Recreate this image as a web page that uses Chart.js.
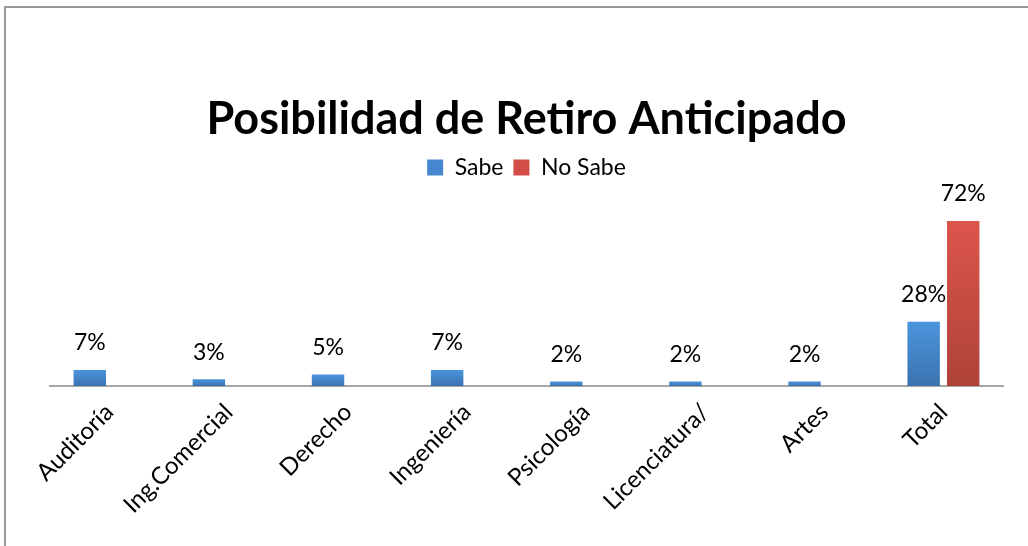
<!DOCTYPE html>
<html>
<head>
<meta charset="utf-8">
<script src="https://cdn.jsdelivr.net/npm/chart.js@4/dist/chart.umd.min.js"></script>
<style>
  html, body { margin: 0; padding: 0; background: #fff; }
  #wrap { width: 1028px; height: 546px; position: relative; }
</style>
</head>
<body>
<div id="wrap"><canvas id="chart" width="1028" height="546"></canvas></div>
<script>
(function () {
    "use strict";

    // ======================================================================
    // Data
    //
    const categories = ['Auditoría', 'Ing.Comercial', 'Derecho', 'Ingeniería', 'Psicología', 'Licenciatura/', 'Artes', 'Total'];
    const sabe = [7, 3, 5, 7, 2, 2, 2, 28];
    const noSabe = [null, null, null, null, null, null, null, 72];
    const seriesNames = ['Sabe', 'No Sabe'];

    const FONT = "Lato, 'Open Sans', sans-serif";

    // ======================================================================
    // Helpers
    //
    // gradient per bar: light on top, darker at the base
    function barFill(top, bottom) {
        return function (ctx) {
            const chart = ctx.chart, y = chart.scales.y;
            if (!chart.chartArea || !y || ctx.raw === null || ctx.raw === undefined) return top;
            const y0 = y.getPixelForValue(ctx.raw),
                y1 = y.getPixelForValue(0);
            if (!isFinite(y0) || !isFinite(y1) || y1 - y0 < 1) return top;
            const g = chart.ctx.createLinearGradient(0, y0, 0, y1);
            g.addColorStop(0, top);
            g.addColorStop(1, bottom);
            return g;
        };
    }

    const framePlugin = {
        id: 'frame',
        beforeDraw(chart) {
            const c = chart.ctx;
            c.save();
            c.strokeStyle = '#9a9a9a';
            c.lineWidth = 2;
            c.beginPath();
            c.moveTo(5, 560);
            c.lineTo(5, 7);
            c.lineTo(1040, 7);
            c.stroke();
            c.restore();
        }
    };

    const valuePlugin = {
        id: 'values',
        afterDatasetsDraw(chart) {
            const c = chart.ctx;
            c.save();
            c.font = '23px ' + FONT;
            c.fillStyle = '#000';
            c.textAlign = 'center';
            c.textBaseline = 'middle';
            chart.data.datasets.forEach((ds, i) => {
                chart.getDatasetMeta(i).data.forEach((bar, j) => {
                    const v = ds.data[j];
                    if (v === null || v === undefined) return;
                    c.fillText(v + '%', bar.x, bar.y - 27);
                });
            });
            c.restore();
        }
    };

    // ======================================================================
    // Chart
    //
    new Chart(document.getElementById('chart'), {
        type: 'bar',
        data: {
            labels: categories,
            datasets: [
                {
                    label: seriesNames[0],
                    data: sabe,
                    backgroundColor: barFill('#4a94dc', '#3b73b0')
                },
                {
                    label: seriesNames[1],
                    data: noSabe,
                    backgroundColor: barFill('#dc554c', '#ae4239')
                }
            ]
        },
        options: {
            responsive: false,
            animation: false,
            categoryPercentage: 0.664,
            barPercentage: 0.82,
            layout: { padding: { left: 50, right: 25, top: 80, bottom: 0 } },
            plugins: {
                title: {
                    display: true,
                    text: 'Posibilidad de Retiro Anticipado',
                    color: '#000',
                    font: { family: FONT, size: 45, weight: 'bold' },
                    padding: { top: 12, bottom: 0 }
                },
                legend: {
                    display: true,
                    labels: {
                        color: '#000',
                        font: { family: FONT, size: 23 },
                        boxWidth: 16,
                        boxHeight: 16,
                        padding: 10,
                        generateLabels(chart) {
                            const cols = ['#4588d0', '#d24d45'];
                            return chart.data.datasets.map((ds, i) => ({
                                text: ds.label,
                                fillStyle: cols[i],
                                strokeStyle: cols[i],
                                lineWidth: 0,
                                datasetIndex: i
                            }));
                        }
                    }
                },
                tooltip: { enabled: false }
            },
            scales: {
                x: {
                    grid: { display: false },
                    border: { display: true, color: '#a6a6a6', width: 2 },
                    ticks: {
                        color: '#000',
                        font: { family: FONT, size: 24 },
                        minRotation: 45,
                        maxRotation: 45,
                        padding: 4
                    },
                    afterFit(scale) {
                        scale.height = 160;
                        scale.paddingLeft = 0;
                        scale.paddingRight = 0;
                    }
                },
                y: {
                    display: false,
                    min: 0,
                    max: 86
                }
            }
        },
        plugins: [framePlugin, valuePlugin]
    });
})();
</script>
</body>
</html>
